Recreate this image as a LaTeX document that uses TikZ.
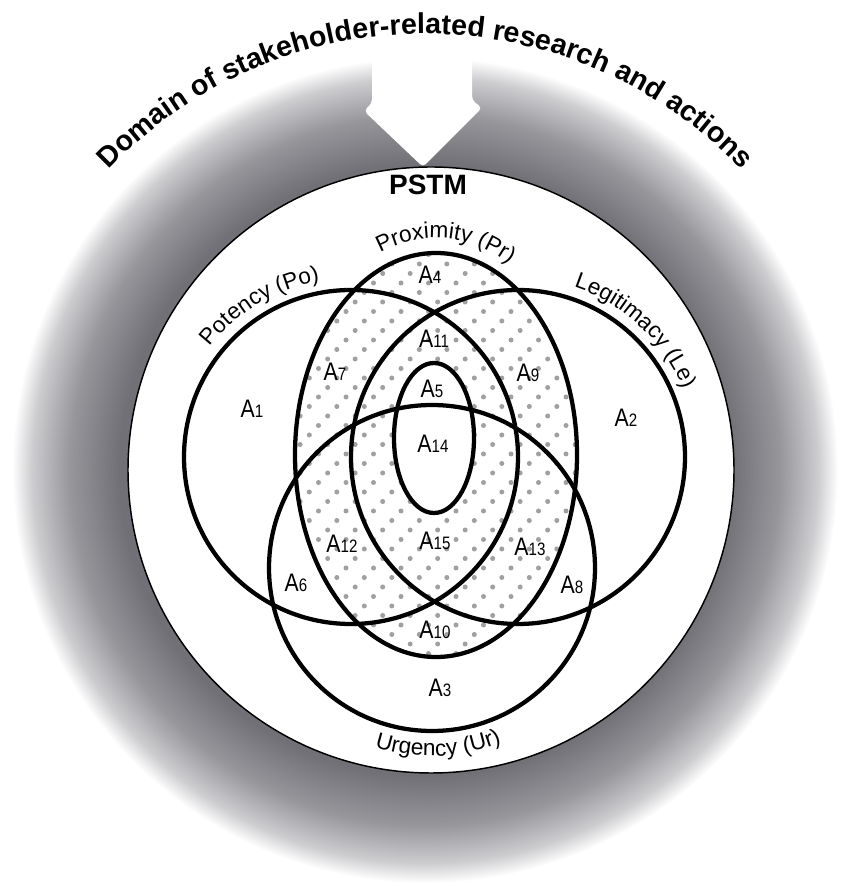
\documentclass[tikz,border=0pt]{standalone}
\usepackage{fontspec}
\setmainfont{Liberation Sans}
\usepackage{tikz}
\usetikzlibrary{decorations.text}

\definecolor{ringdark}{RGB}{112,112,118}
\definecolor{ringmid}{RGB}{150,150,155}
\definecolor{ringlight}{RGB}{205,205,208}
\definecolor{dotgray}{RGB}{160,160,160}
\pgfdeclareradialshading{ringshade}{\pgfpoint{0bp}{0bp}}{color(0bp)=(ringdark); color(18.5bp)=(ringdark); color(21.5bp)=(ringmid); color(23.8bp)=(ringlight); color(25bp)=(white); color(50bp)=(white)}

\newcommand{\areaname}[1]{A{\fontsize{13.5}{14}\selectfont#1}}
\newcommand{\lblfont}{\fontsize{17}{18}\selectfont}

\begin{document}
\begin{tikzpicture}[x=0.75pt, y=0.75pt,
  venn/.style={line width=3.2pt},
  area/.style={font=\fontsize{19}{20}\selectfont, inner sep=0pt, xscale=0.84}
]
  \useasboundingbox (0,0) rectangle (841,886);
  \coordinate (ring) at (425,416);
  \coordinate (pstm) at (431,416);
  \coordinate (po) at (351,429);
  \coordinate (le) at (518,429);
  \coordinate (pr) at (436,431);
  \coordinate (ur) at (432,318);
  \coordinate (core) at (434,448);

  \shade[shading=ringshade] (ring) circle [radius=413];
  \fill[white, rounded corners=3] (372,846) -- (372,783) -- (364,775) -- (423,719) -- (482,778) -- (472,786) -- (472,846) -- cycle;
  \path[decorate, decoration={text along path, text align=center,
    text={|\fontsize{21.5}{24}\selectfont\bfseries|Domain of stakeholder-related research and actions}}]
    (ring) ++(165:436) arc [start angle=165, end angle=15, radius=436];

  \draw[fill=white, line width=1.1pt] (pstm) circle [radius=303];
  \node[font=\fontsize{21}{24}\selectfont\bfseries] (pstmlabel) at (428,701) {PSTM};

  % dotted proximity area
  \begin{scope}
    \clip (pr) ellipse [x radius=141, y radius=202];
    \foreach \j in {0,...,43}{
      \pgfmathsetmacro\sx{483.5-9.17*mod(\j,3)}
      \foreach \i in {-9,...,4}
        \fill[dotgray] ({\sx+27.5*\i},{631.5-9.5*\j}) circle [radius=2.5];
    }
  \end{scope}
  \fill[white] (core) ellipse [x radius=40, y radius=75];

  \draw[venn] (po) circle [radius=167];
  \draw[venn] (le) circle [radius=167];
  \draw[venn] (pr) ellipse [x radius=141, y radius=202];
  \draw[venn] (ur) circle [radius=163];
  \draw[venn] (core) ellipse [x radius=40, y radius=75];

  \path[decorate, decoration={text along path, text align=center, text={|\lblfont|Potency (Po)}}]
    (po) ++(171:179) arc [start angle=171, end angle=71, radius=179];
  \path[decorate, decoration={text along path, text align=center, text={|\lblfont|Proximity (Pr)}}]
    (pr) ++(140:156 and 217) arc [start angle=140, end angle=34, x radius=156, y radius=217];
  \path[decorate, decoration={text along path, text align=center, text={|\lblfont|Legitimacy (Le)}}]
    (le) ++(98:179) arc [start angle=98, end angle=-4, radius=179];
  \path[decorate, decoration={text along path, text align=center, text={|\lblfont|Urgency (Ur)}}]
    (ur) ++(227:188) arc [start angle=227, end angle=317, radius=188];

  \node[area] (a1) at (252,477) {\areaname{1}};
  \node[area] (a2) at (626,468) {\areaname{2}};
  \node[area] (a3) at (440,198) {\areaname{3}};
  \node[area] (a4) at (430,611) {\areaname{4}};
  \node[area] (a5) at (432,497) {\areaname{5}};
  \node[area] (a6) at (296,303) {\areaname{6}};
  \node[area] (a7) at (335,514) {\areaname{7}};
  \node[area] (a8) at (572,301) {\areaname{8}};
  \node[area] (a9) at (528,513) {\areaname{9}};
  \node[area] (a10) at (435,256) {\areaname{10}};
  \node[area] (a11) at (434,547) {\areaname{11}};
  \node[area] (a12) at (342,342) {\areaname{12}};
  \node[area] (a13) at (530,339) {\areaname{13}};
  \node[area] (a14) at (433,442) {\areaname{14}};
  \node[area] (a15) at (435,345) {\areaname{15}};
\end{tikzpicture}
\end{document}
